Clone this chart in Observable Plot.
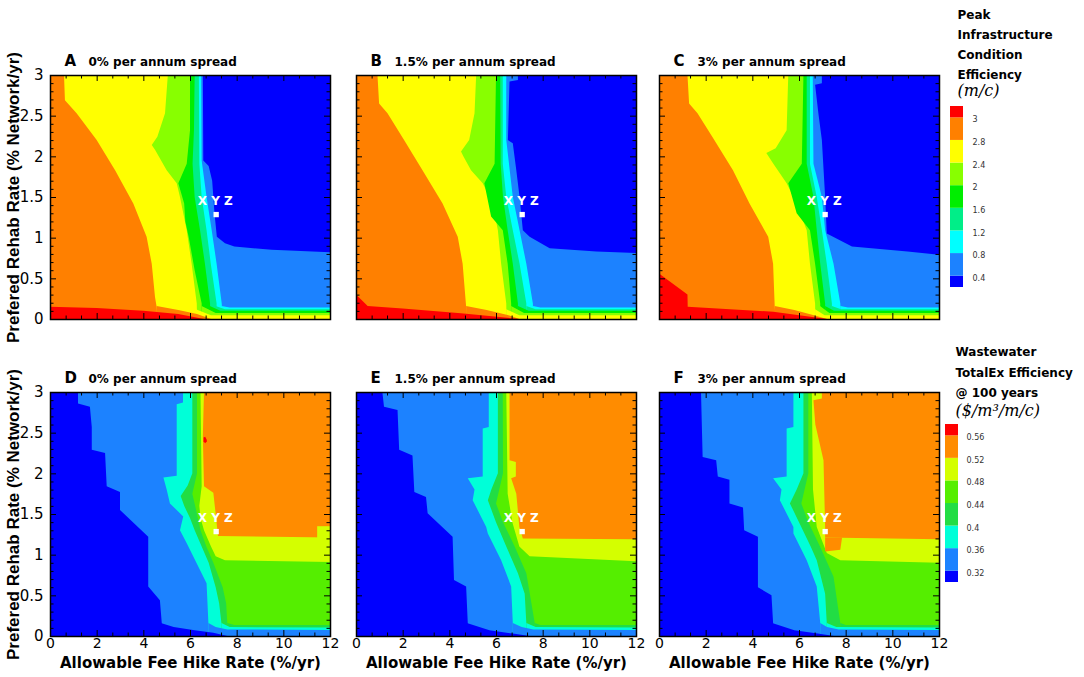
<!DOCTYPE html>
<html><head><meta charset="utf-8">
<script src="https://cdn.jsdelivr.net/npm/d3@7"></script>
<script src="https://cdn.jsdelivr.net/npm/@observablehq/plot@0.6"></script>
<style>
body{margin:0;background:#fff;}
#fig{position:relative;width:1084px;height:677px;overflow:hidden;background:#fff;}
#fig > svg{position:absolute;}
</style></head><body><div id="fig"></div>
<script>
// ---------- axes / ticks ----------
const xDomain = [0, 12];
const yDomain = [0, 3];
const xTicks = [0, 2, 4, 6, 8, 10, 12];
const xMinorTicks = [0.67, 1.33, 2.67, 3.33, 4.67, 5.33, 6.67, 7.33, 8.67, 9.33, 10.67, 11.33];
const yTicks = [0, 0.5, 1, 1.5, 2, 2.5, 3];
const yMinorTicks = [0.1,0.2,0.3,0.4,0.6,0.7,0.8,0.9,1.1,1.2,1.3,1.4,1.6,1.7,1.8,1.9,2.1,2.2,2.3,2.4,2.6,2.7,2.8,2.9];
const xLabel = "Allowable Fee Hike Rate (%/yr)";
const yLabel = "Prefered Rehab Rate (% Network/yr)";
const panelLetters = ["A", "B", "C", "D", "E", "F"];
const spreads = ["0% per annum spread", "1.5% per annum spread", "3% per annum spread"];
const marker = [{x: 7.1, y: 1.29}];
const markerLabel = [{x: 7.06, y: 1.45, text: "X Y Z"}];

// ---------- legends ----------
const topThresholds = [0.4, 0.8, 1.2, 1.6, 2, 2.4, 2.8, 3];
const bottomThresholds = [0.32, 0.36, 0.4, 0.44, 0.48, 0.52, 0.56];
const topLegendTitle = "Peak\nInfrastructure\nCondition\nEfficiency";
const topLegendUnit = "(m/c)";
const bottomLegendTitle = "Wastewater\nTotalEx Efficiency\n@ 100 years";
const bottomLegendUnit = "($/m³/m/c)";

// ---------- panel A (level = value band to the right of each boundary; pts = [y, x]) ----------
const boundsA = [
 {level: 2.8, pts: [[3,0],[0,0]]},
 {level: 2.4, pts: [[3,0.6],[2.69,0.64],[2.53,1.14],[2.2,2.0],[1.83,2.79],[1.42,3.57],[1.01,4.14],[0.68,4.36],[0.27,4.5],[0.15,4.57],[0,4.6]]},
 {level: 2.0, pts: [[3,5.05],[2.53,4.93],[2.24,4.6],[2.14,4.36],[2.08,4.5],[1.83,5.0],[1.67,5.43],[1.5,5.57],[1.09,5.86],[0.68,6.07],[0.19,6.29],[0,6.3]]},
 {level: 1.6, pts: [[3,6.0],[2.32,6.0],[1.91,5.86],[1.67,5.5],[1.42,5.75],[1.2,5.8],[1.0,5.95],[0.6,6.2],[0.19,6.5],[0,6.5]]},
 {level: 1.2, pts: [[3,6.2],[2.32,6.17],[1.91,6.11],[1.5,6.2],[1.09,6.43],[0.68,6.64],[0.19,6.86],[0,6.86]]},
 {level: 0.8, pts: [[3,6.38],[1.91,6.4],[1.5,6.5],[1.09,6.71],[0.68,6.89],[0.19,7.14],[0,7.14]]},
 {level: 0.4, pts: [[3,6.48],[1.95,6.5],[1.5,6.71],[1.09,6.93],[0.68,7.14],[0.19,7.36],[0,7.4]]},
 {level: 0, pts: [[3,6.55],[1.95,6.57],[1.88,6.8],[1.7,6.95],[1.3,7.05],[1.01,7.15],[0.93,7.5],[0.89,7.9],[0.85,9.5],[0.82,12],[0,12]]}
];
const bottomA = [
 {level: 0.8, pts: [[7.35,0.16],[7.7,0.14],[12,0.14]]},
 {level: 1.2, pts: [[7.1,0.16],[7.5,0.12],[12,0.12]]},
 {level: 1.6, pts: [[6.85,0.16],[7.3,0.1],[12,0.1]]},
 {level: 2.0, pts: [[6.5,0.16],[7.1,0.075],[12,0.075]]},
 {level: 2.4, pts: [[6.25,0.12],[6.9,0.045],[12,0.045]]},
 {level: 2.8, pts: [[4.57,0.16],[5.5,0.11],[6.3,0.06],[6.9,0]]},
 {level: 3, pts: [[0,0.15],[2,0.135],[4,0.1],[5.5,0.06],[6.6,0]]}
];
const patchesA = [];

// ---------- panel B ----------
const boundsB = [
 {level: 2.8, pts: [[3,0],[0,0]]},
 {level: 2.4, pts: [[3,0.92],[2.65,0.99],[2.53,1.35],[2.2,2.06],[1.83,2.85],[1.42,3.71],[1.01,4.36],[0.68,4.57],[0.15,4.72],[0,4.75]]},
 {level: 2.0, pts: [[3,5.15],[2.53,5.08],[2.2,4.85],[2.06,4.5],[2.0,4.6],[1.83,4.93],[1.67,5.43],[1.42,5.86],[1.09,6.08],[0.68,6.22],[0.19,6.44],[0,6.45]]},
 {level: 1.6, pts: [[3,6.0],[1.91,5.94],[1.67,5.5],[1.26,5.79],[1.09,6.29],[0.68,6.5],[0.19,6.65],[0,6.65]]},
 {level: 1.2, pts: [[3,6.18],[1.91,6.2],[1.5,6.3],[1.09,6.5],[0.68,6.72],[0.19,6.94],[0,6.94]]},
 {level: 0.8, pts: [[3,6.29],[1.91,6.29],[1.5,6.44],[1.09,6.72],[0.68,7.01],[0.19,7.3],[0,7.3]]},
 {level: 0.4, pts: [[3,6.44],[2.2,6.44],[1.5,6.72],[1.09,7.01],[0.68,7.3],[0.19,7.58],[0,7.6]]},
 {level: 0, pts: [[3,6.94],[2.94,6.94],[2.92,6.58],[2.2,6.51],[2.16,6.72],[1.83,6.87],[1.5,7.01],[1.09,7.15],[1.01,7.44],[0.87,8.3],[0.83,10.3],[0.81,12],[0,12]]}
];
const bottomB = [
 {level: 0.8, pts: [[7.58,0.16],[7.9,0.14],[12,0.14]]},
 {level: 1.2, pts: [[7.3,0.16],[7.7,0.12],[12,0.12]]},
 {level: 1.6, pts: [[6.94,0.16],[7.4,0.1],[12,0.1]]},
 {level: 2.0, pts: [[6.65,0.16],[7.2,0.075],[12,0.075]]},
 {level: 2.4, pts: [[6.44,0.12],[7.0,0.045],[12,0.045]]},
 {level: 2.8, pts: [[4.72,0.16],[5.6,0.11],[6.5,0.05],[7.0,0]]},
 {level: 3, pts: [[0,0.3],[0.5,0.16],[2,0.13],[4.5,0.07],[7.0,0]]}
];
const patchesB = [];

// ---------- panel C ----------
const boundsC = [
 {level: 2.8, pts: [[3,0],[0,0]]},
 {level: 2.4, pts: [[3,1.22],[2.65,1.29],[2.53,1.65],[2.2,2.37],[1.83,3.17],[1.42,3.88],[1.01,4.68],[0.68,4.89],[0.15,4.96],[0,5.0]]},
 {level: 2.0, pts: [[3,5.54],[2.32,5.47],[2.1,5.0],[2.04,4.6],[1.91,4.9],[1.67,5.47],[1.42,5.9],[1.09,6.33],[0.68,6.47],[0.19,6.69],[0,6.7]]},
 {level: 1.6, pts: [[3,6.19],[1.91,6.12],[1.67,5.54],[1.3,5.9],[1.09,6.47],[0.68,6.69],[0.19,6.91],[0,6.91]]},
 {level: 1.2, pts: [[3,6.33],[1.91,6.33],[1.5,6.62],[1.09,6.76],[0.68,6.91],[0.19,7.12],[0,7.12]]},
 {level: 0.8, pts: [[3,6.47],[1.91,6.47],[1.5,6.76],[1.09,6.98],[0.68,7.19],[0.19,7.41],[0,7.41]]},
 {level: 0.4, pts: [[3,6.59],[1.91,6.62],[1.5,6.98],[1.09,7.12],[0.68,7.48],[0.19,7.77],[0,7.8]]},
 {level: 0, pts: [[3,6.98],[2.9,6.98],[2.88,6.69],[2.53,6.83],[2.2,6.98],[1.5,7.12],[1.05,7.19],[0.89,8.27],[0.83,10.65],[0.79,12],[0,12]]}
];
const bottomC = [
 {level: 0.8, pts: [[7.77,0.16],[8.1,0.14],[12,0.14]]},
 {level: 1.2, pts: [[7.41,0.16],[7.8,0.12],[12,0.12]]},
 {level: 1.6, pts: [[7.12,0.16],[7.5,0.1],[12,0.1]]},
 {level: 2.0, pts: [[6.9,0.16],[7.3,0.075],[12,0.075]]},
 {level: 2.4, pts: [[6.69,0.12],[7.1,0.045],[12,0.045]]},
 {level: 2.8, pts: [[4.96,0.16],[5.8,0.11],[6.6,0.05],[7.2,0]]},
 {level: 3, pts: [[0,0.56],[1.22,0.3],[1.23,0.15],[4.9,0.09],[7.2,0]]}
];
const patchesC = [];

// ---------- panel D ----------
const boundsD = [
 {level: 0, pts: [[3,0],[0,0]]},
 {level: 0.32, pts: [[3,1.2],[2.86,1.2],[2.82,1.71],[2.57,1.79],[2.29,1.79],[2.25,2.36],[1.84,2.43],[1.77,3.0],[1.55,3.0],[1.22,4.21],[0.61,4.21],[0.44,4.71],[0.16,4.79],[0,4.79]]},
 {level: 0.36, pts: [[3,5.7],[2.87,5.7],[2.85,5.43],[1.97,5.43],[1.95,4.86],[1.8,5.0],[1.63,5.14],[1.47,5.71],[1.3,5.57],[1.14,5.86],[0.89,6.29],[0.65,6.71],[0.15,6.79],[0,6.8]]},
 {level: 0.40, pts: [[3,6.1],[2.0,6.1],[1.85,5.9],[1.72,5.6],[1.6,5.75],[1.45,6.0],[1.3,6.2],[1.1,6.5],[0.9,6.8],[0.6,7.1],[0.4,7.25],[0.15,7.35],[0,7.35]]},
 {level: 0.44, pts: [[3,6.3],[2.0,6.3],[1.75,6.1],[1.5,6.3],[1.3,6.45],[1.1,6.7],[0.9,7.0],[0.6,7.4],[0.4,7.55],[0.15,7.6],[0,7.6]]},
 {level: 0.48, pts: [[3,6.45],[1.84,6.5],[1.6,6.4],[1.45,6.45],[1.3,6.6],[1.1,6.9],[0.98,7.1],[0.93,7.5],[0.91,12],[0,12]]},
 {level: 0.52, pts: [[3,6.6],[2.45,6.55],[1.84,6.6],[1.76,7.0],[1.5,7.1],[1.23,7.2],[1.21,12],[0,12]]}
];
const bottomD = [
 {level: 0.40, pts: [[7.6,0.16],[7.9,0.135],[12,0.135]]},
 {level: 0.36, pts: [[7.35,0.16],[7.7,0.11],[12,0.105]]},
 {level: 0.32, pts: [[6.79,0.16],[7.1,0.11],[7.6,0.08],[12,0.075]]},
 {level: 0, pts: [[4.75,0.16],[5.3,0.11],[6.2,0.07],[7.0,0.04],[7.6,0]]}
];
const patchesD = [
 {level: 0.48, pts: [[11.45,1.2,1.35],[12,1.2,1.35]]},
 {level: 0.56, pts: [[6.58,2.39,2.44],[6.65,2.37,2.45],[6.72,2.39,2.41]]}
];

// ---------- panel E ----------
const boundsE = [
 {level: 0, pts: [[3,0],[0,0]]},
 {level: 0.32, pts: [[3,1.13],[2.82,1.2],[2.78,1.78],[2.29,1.85],[2.22,2.42],[1.77,2.5],[1.71,3.0],[1.51,3.07],[1.22,4.14],[0.69,4.2],[0.61,4.72],[0.16,4.79],[0,4.79]]},
 {level: 0.36, pts: [[3,5.69],[2.57,5.69],[2.55,5.43],[1.96,5.43],[1.94,4.79],[1.8,5.08],[1.67,5.0],[1.34,5.58],[1.26,5.65],[0.93,6.22],[0.61,6.65],[0.16,6.72],[0,6.72]]},
 {level: 0.40, pts: [[3,6.08],[2.0,6.08],[1.8,5.8],[1.67,5.65],[1.4,6.0],[1.1,6.44],[0.77,6.94],[0.52,7.23],[0.16,7.3],[0,7.3]]},
 {level: 0.44, pts: [[3,6.29],[2.0,6.3],[1.63,6.0],[1.4,6.3],[1.1,6.8],[0.77,7.3],[0.16,7.66],[0,7.66]]},
 {level: 0.48, pts: [[3,6.44],[1.75,6.5],[1.4,6.7],[1.1,7.0],[0.98,7.44],[0.92,12],[0,12]]},
 {level: 0.52, pts: [[3,6.58],[2.16,6.58],[2.14,6.85],[1.96,6.85],[1.94,6.65],[1.75,6.87],[1.34,7.0],[1.2,7.15],[1.19,12],[0,12]]}
];
const bottomE = [
 {level: 0.40, pts: [[7.66,0.16],[7.9,0.135],[12,0.135]]},
 {level: 0.36, pts: [[7.3,0.16],[7.7,0.11],[12,0.105]]},
 {level: 0.32, pts: [[6.72,0.16],[7.1,0.11],[7.6,0.08],[12,0.075]]},
 {level: 0, pts: [[4.75,0.16],[5.72,0.07],[6.72,0.03],[7.44,0]]}
];
const patchesE = [];

// ---------- panel F ----------
const boundsF = [
 {level: 0, pts: [[3,0],[0,0]]},
 {level: 0.32, pts: [[3,1.8],[2.2,1.87],[2.16,2.45],[1.96,2.52],[1.92,3.02],[1.63,3.02],[1.58,3.6],[1.3,3.65],[1.22,4.24],[0.6,4.24],[0.5,4.82],[0.16,4.89],[0,4.89]]},
 {level: 0.36, pts: [[3,5.76],[2.57,5.76],[2.55,5.47],[1.96,5.47],[1.94,4.89],[1.8,5.25],[1.67,5.18],[1.34,5.76],[1.26,5.76],[0.93,6.33],[0.61,6.76],[0.16,6.91],[0,6.91]]},
 {level: 0.40, pts: [[3,6.19],[2.0,6.19],[1.8,5.9],[1.63,5.61],[1.4,6.0],[1.1,6.5],[0.93,6.76],[0.52,7.12],[0.16,7.19],[0,7.19]]},
 {level: 0.44, pts: [[3,6.4],[2.0,6.4],[1.63,6.1],[1.4,6.4],[1.1,6.9],[0.73,7.48],[0.16,7.77],[0,7.77]]},
 {level: 0.48, pts: [[3,6.55],[1.8,6.6],[1.34,6.76],[1.02,7.19],[0.93,7.77],[0.9,12],[0,12]]},
 {level: 0.52, pts: [[3,6.98],[2.92,6.98],[2.9,6.62],[2.6,6.7],[2.16,7.05],[1.34,7.12],[1.21,7.12],[1.19,12],[0,12]]}
];
const bottomF = [
 {level: 0.40, pts: [[7.77,0.16],[8.0,0.135],[12,0.135]]},
 {level: 0.36, pts: [[7.19,0.16],[7.6,0.11],[12,0.105]]},
 {level: 0.32, pts: [[6.91,0.16],[7.2,0.11],[7.7,0.08],[12,0.075]]},
 {level: 0, pts: [[4.85,0.16],[5.8,0.07],[6.8,0.03],[7.5,0]]}
];
const patchesF = [
 {level: 0.52, pts: [[7.12,1.04,1.21],[7.77,1.06,1.21],[7.84,1.2,1.21]]}
];

// ---------- styles ----------
const topPalette = ["#0000ff","#1c82ff","#00ffff","#00ee88","#00ee00","#88ff00","#ffff00","#ff8000","#ff0000"];
const bottomPalette = ["#0000ff","#1c82ff","#00ffd8","#22dd44","#55ee00","#d4ff00","#ff8c00","#ff0000"];
const PW = 280, PH = 244, ML = 50, MR = 10, MT = 30, MB = 42;
const FONT = "DejaVu Sans";

function panel(cfg) {
  const {bounds, bottoms, patches, thresholds, palette, letter, subtitle, showX, showY} = cfg;
  const marks = [];
  for (const b of bounds)
    marks.push(Plot.areaX(b.pts, {y: d => d[0], x1: d => d[1], x2: xDomain[1], fill: () => b.level, clip: true}));
  for (const p of patches)
    marks.push(Plot.areaY(p.pts, {x: d => d[0], y1: d => d[1], y2: d => d[2], fill: () => p.level, clip: true}));
  for (const b of bottoms)
    marks.push(Plot.areaY(b.pts, {x: d => d[0], y1: yDomain[0], y2: d => d[1], fill: () => b.level, clip: true}));
  marks.push(Plot.dot(marker, {x: "x", y: "y", symbol: "square", r: 3, fill: "white"}));
  marks.push(Plot.text(markerLabel, {x: "x", y: "y", text: "text", fill: "white", fontWeight: "bold", fontSize: 12, fontFamily: FONT}));
  // inside ticks on all sides
  marks.push(Plot.tickX(xTicks, {x: d => d, insetTop: PH - 6, stroke: "black"}));
  marks.push(Plot.tickX(xTicks, {x: d => d, insetBottom: PH - 6, stroke: "black"}));
  marks.push(Plot.tickX(xMinorTicks, {x: d => d, insetTop: PH - 3.5, stroke: "black"}));
  marks.push(Plot.tickX(xMinorTicks, {x: d => d, insetBottom: PH - 3.5, stroke: "black"}));
  marks.push(Plot.tickY(yTicks, {y: d => d, insetRight: PW - 6, stroke: "black"}));
  marks.push(Plot.tickY(yTicks, {y: d => d, insetLeft: PW - 6, stroke: "black"}));
  marks.push(Plot.tickY(yMinorTicks, {y: d => d, insetRight: PW - 3.5, stroke: "black"}));
  marks.push(Plot.tickY(yMinorTicks, {y: d => d, insetLeft: PW - 3.5, stroke: "black"}));
  marks.push(Plot.frame({stroke: "black", strokeWidth: 1.5}));
  marks.push(Plot.text([letter], {text: d => d, frameAnchor: "top-left", dx: 14, dy: -10, lineAnchor: "bottom", textAnchor: "start", fontSize: 15, fontWeight: "bold", fontFamily: FONT}));
  marks.push(Plot.text([subtitle], {text: d => d, frameAnchor: "top-left", dx: 38, dy: -10, lineAnchor: "bottom", textAnchor: "start", fontSize: 12, fontWeight: "bold", fontFamily: FONT}));
  if (showX) {
    marks.push(Plot.axisX(xTicks, {tickSize: 0, tickPadding: 2, tickFormat: d => String(d), label: null, fontSize: 14, fontFamily: FONT}));
    marks.push(Plot.text([xLabel], {text: d => d, frameAnchor: "bottom", dy: 31, lineAnchor: "bottom", textAnchor: "middle", fontSize: 15, fontWeight: "bold", fontFamily: FONT}));
  }
  if (showY) {
    marks.push(Plot.axisY(yTicks, {tickSize: 0, tickPadding: 7, tickFormat: d => String(d), label: null, fontSize: 15, fontFamily: FONT}));
    marks.push(Plot.text([yLabel], {text: d => d, frameAnchor: "left", rotate: -90, dx: -37, textAnchor: "middle", lineAnchor: "middle", fontSize: 17, fontWeight: "bold", fontFamily: "Liberation Sans"}));
  }
  return Plot.plot({
    width: PW + ML + MR, height: PH + MT + MB,
    marginLeft: ML, marginRight: MR, marginTop: MT, marginBottom: MB,
    x: {domain: xDomain, axis: null},
    y: {domain: yDomain, axis: null},
    color: {type: "threshold", domain: thresholds, range: palette},
    style: {fontFamily: FONT, fontSize: "15px", background: "transparent", overflow: "visible", color: "black"},
    marks
  });
}

function legend(cfg) {
  const {thresholds, palette, title, unit, width, height, mt, barH, titleDx, titleDy, titleLh, unitDy, labelDx} = cfg;
  const levels = [0, ...thresholds];
  return Plot.plot({
    width, height, marginLeft: 10, marginRight: width - 10 - 13, marginTop: mt, marginBottom: height - mt - barH,
    x: {domain: [0, 1], axis: null},
    y: {domain: [0, levels.length - 1], axis: null},
    color: {type: "threshold", domain: thresholds, range: palette},
    style: {fontFamily: FONT, background: "transparent", overflow: "visible", color: "black"},
    marks: [
      Plot.rect(levels, {x1: 0, x2: 1, y1: (d, i) => i - 0.5, y2: (d, i) => i + 0.5, fill: d => d, clip: true}),
      Plot.text(thresholds, {x: 1, y: (d, i) => i + 0.5, text: d => String(d), dx: labelDx, dy: 2, textAnchor: "start", fontSize: 8, fill: "#333", fontFamily: FONT}),
      Plot.text([title], {text: d => d, frameAnchor: "top-left", dx: titleDx, dy: titleDy, lineAnchor: "top", textAnchor: "start", lineHeight: titleLh, fontSize: 12, fontWeight: "bold", fontFamily: FONT}),
      Plot.text([unit], {text: d => d, frameAnchor: "top-left", dx: titleDx, dy: unitDy, lineAnchor: "bottom", textAnchor: "start", fontSize: 16, fontStyle: "italic", fontFamily: "DejaVu Serif"})
    ]
  });
}

const fig = document.getElementById("fig");
function place(svg, left, top) { svg.style.left = left + "px"; svg.style.top = top + "px"; fig.appendChild(svg); }

const topData = [[boundsA, bottomA, patchesA], [boundsB, bottomB, patchesB], [boundsC, bottomC, patchesC]];
const botData = [[boundsD, bottomD, patchesD], [boundsE, bottomE, patchesE], [boundsF, bottomF, patchesF]];
const lefts = [0, 306, 609];
topData.forEach(([bounds, bottoms, patches], i) => {
  place(panel({bounds, bottoms, patches, thresholds: topThresholds, palette: topPalette,
    letter: panelLetters[i], subtitle: spreads[i], showX: false, showY: i === 0}), lefts[i], 45);
});
botData.forEach(([bounds, bottoms, patches], i) => {
  place(panel({bounds, bottoms, patches, thresholds: bottomThresholds, palette: bottomPalette,
    letter: panelLetters[i + 3], subtitle: spreads[i], showX: true, showY: i === 0}), lefts[i], 362);
});

place(legend({thresholds: topThresholds, palette: topPalette, title: topLegendTitle, unit: topLegendUnit,
  width: 144, height: 300, mt: 106, barH: 181, titleDx: 7, titleDy: -102, titleLh: 1.68, unitDy: -11, labelDx: 9}), 940, 0);
place(legend({thresholds: bottomThresholds, palette: bottomPalette, title: bottomLegendTitle, unit: bottomLegendUnit,
  width: 149, height: 270, mt: 94, barH: 158, titleDx: 10, titleDy: -83, titleLh: 1.72, unitDy: -9, labelDx: 8}), 935, 330);
</script></body></html>
